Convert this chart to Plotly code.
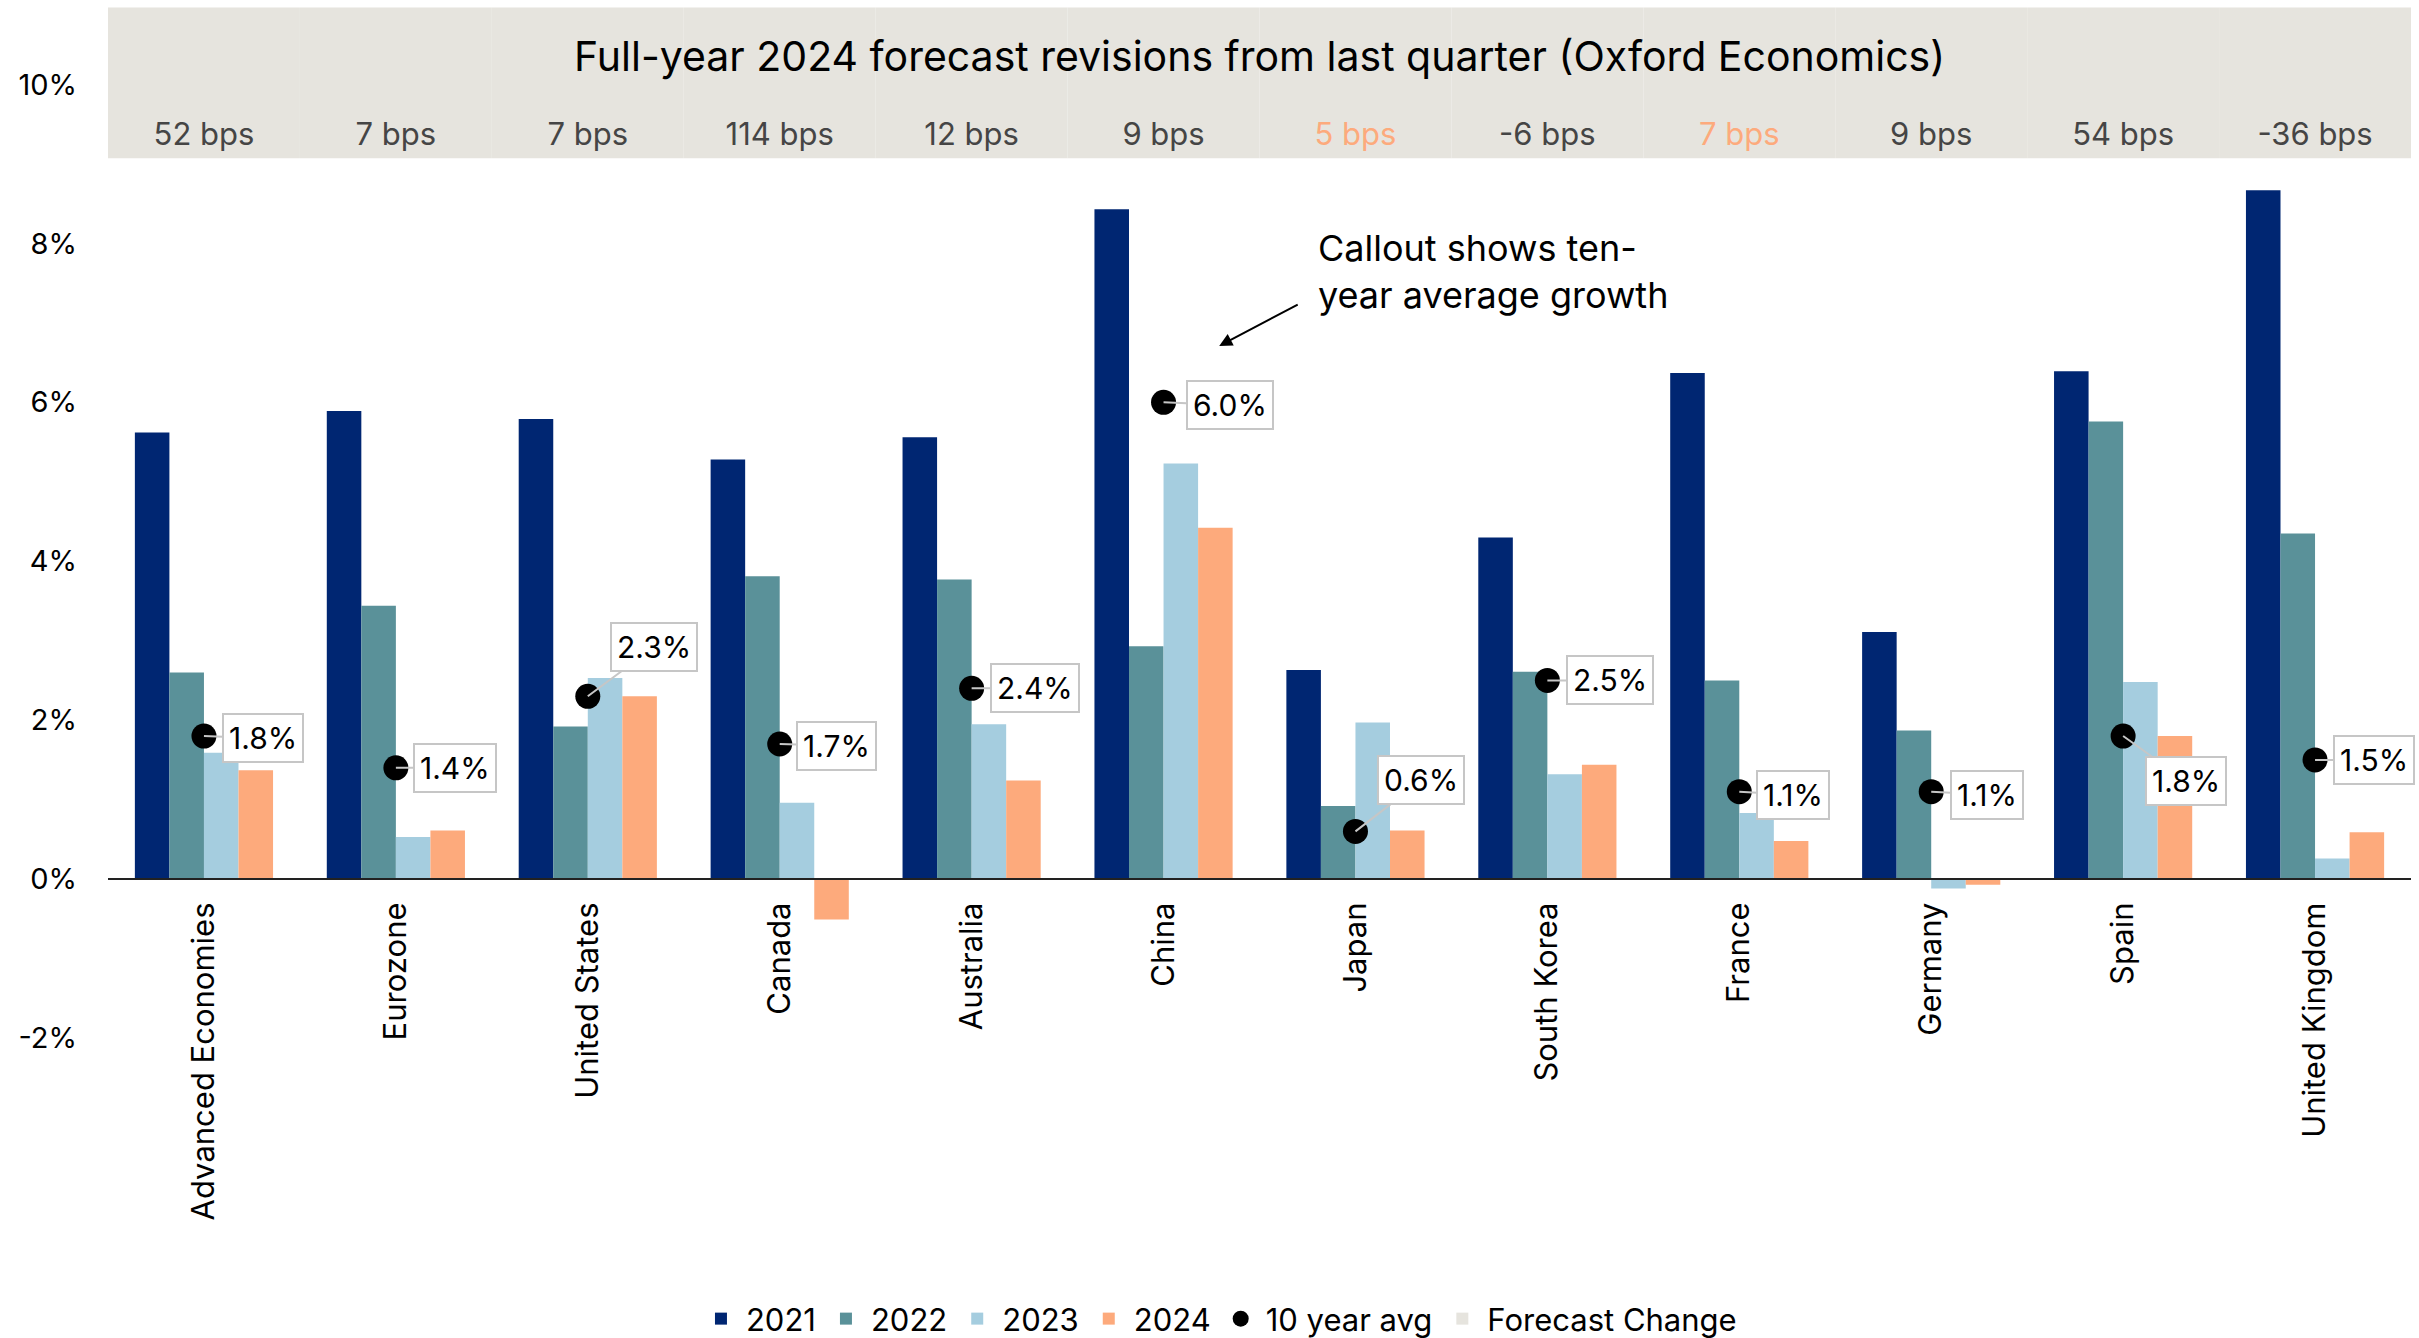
import plotly.graph_objects as go

# ---- data -----------------------------------------------------------------
categories = ["Advanced Economies", "Eurozone", "United States", "Canada",
              "Australia", "China", "Japan", "South Korea", "France",
              "Germany", "Spain", "United Kingdom"]

growth_2021 = [5.62, 5.89, 5.79, 5.28, 5.56, 8.43, 2.63, 4.30, 6.37, 3.11, 6.39, 8.67]
growth_2022 = [2.60, 3.44, 1.92, 3.81, 3.77, 2.93, 0.92, 2.61, 2.50, 1.87, 5.76, 4.35]
growth_2023 = [1.59, 0.53, 2.53, 0.96, 1.95, 5.23, 1.97, 1.32, 0.83, -0.12, 2.48, 0.26]
growth_2024 = [1.37, 0.61, 2.30, -0.51, 1.24, 4.42, 0.61, 1.44, 0.48, -0.07, 1.80, 0.59]

ten_year_avg = [1.8, 1.4, 2.3, 1.7, 2.4, 6.0, 0.6, 2.5, 1.1, 1.1, 1.8, 1.5]

revision_bps = [52, 7, 7, 114, 12, 9, 5, -6, 7, 9, 54, -36]
revision_highlight = [False, False, False, False, False, False, True, False, True, False, False, False]

y_ticks = [-2, 0, 2, 4, 6, 8, 10]
y_tick_labels = ["-2%", "0%", "2%", "4%", "6%", "8%", "10%"]

# callout offsets (px) for the ten-year average labels
callout_dx = [59, 59, 66, 57, 63, 66, 66, 63, 54, 56, 63, 59]
callout_dy = [2, 0, -49, 2, 0, 3, -51, 0, 3, 3, 45, 0]

# ---- styling --------------------------------------------------------------
FONT = "Inter"
C2021, C2022, C2023, C2024 = "#002672", "#5A9199", "#A5CDDF", "#FDAA7C"
BAND = "#E6E4DE"
BAND_BASE, BAND_TOP = 9.07, 10.97
Y_MIN, Y_MAX = -2, 11

fig = go.Figure()

# header band ("Forecast Change" series) on an overlaid category axis
fig.add_trace(go.Bar(
    x=categories, y=[BAND_TOP - BAND_BASE] * len(categories), base=BAND_BASE,
    width=1.0, marker=dict(color=BAND, line=dict(width=0)),
    name="Forecast Change", xaxis="x2", yaxis="y", legendrank=6,
    hoverinfo="skip",
))

for vals, col, nm, rk in [(growth_2021, C2021, "2021", 1), (growth_2022, C2022, "2022", 2),
                          (growth_2023, C2023, "2023", 3), (growth_2024, C2024, "2024", 4)]:
    fig.add_trace(go.Bar(x=categories, y=vals, name=nm, legendrank=rk,
                         marker=dict(color=col, line=dict(width=0))))

fig.add_trace(go.Scatter(
    x=categories, y=ten_year_avg, mode="markers", name="10 year avg", legendrank=5,
    marker=dict(color="black", size=25),
))

# revision labels inside the band
fig.add_trace(go.Scatter(
    x=categories, y=[9.33] * len(categories), mode="text",
    text=[f"{v} bps" for v in revision_bps],
    textfont=dict(family=FONT, size=31,
                  color=["#FDAA7C" if h else "#454545" for h in revision_highlight]),
    showlegend=False, hoverinfo="skip", xaxis="x2",
))

annotations = []
for c, v, dx, dy in zip(categories, ten_year_avg, callout_dx, callout_dy):
    annotations.append(dict(
        x=c, y=v, xref="x", yref="y", text=f"{v:.1f}%",
        showarrow=True, ax=dx, ay=dy, arrowhead=0, arrowwidth=2,
        arrowcolor="#C6C6C6", standoff=0,
        bgcolor="white", bordercolor="#C6C6C6", borderwidth=2, borderpad=5,
        font=dict(family=FONT, size=30, color="black"),
    ))

# chart title inside the band
annotations.append(dict(
    x=0.5, xref="paper", y=10.36, yref="y",
    text="Full-year 2024 forecast revisions from last quarter (Oxford Economics)",
    showarrow=False, font=dict(family=FONT, size=41, color="black"),
))

# explanatory note with arrow
annotations.append(dict(
    x=0.5245, xref="paper", y=7.64, yref="y", xanchor="left", yanchor="middle",
    align="left", text="Callout shows ten-<br>year average growth",
    showarrow=False, font=dict(family=FONT, size=36, color="black"),
))
annotations.append(dict(
    x=5.29, xref="x", y=6.71, yref="y", text="", showarrow=True,
    ax=80, ay=-42, arrowhead=2, arrowsize=1.3, arrowwidth=2, arrowcolor="black",
))

zero_pos = (0 - Y_MIN) / (Y_MAX - Y_MIN)

fig.update_layout(
    width=2419, height=1338,
    margin=dict(l=108, r=8, t=5, b=300, autoexpand=False),
    paper_bgcolor="white", plot_bgcolor="white",
    barmode="group", bargap=0.28, bargroupgap=0,
    font=dict(family=FONT, color="black"),
    xaxis=dict(
        type="category", categoryarray=categories, range=[-0.5, 11.5],
        anchor="free", position=zero_pos, automargin=False,
        showline=True, linecolor="#222222", linewidth=2,
        ticks="", tickangle=-90, tickfont=dict(family=FONT, size=31, color="black"),
        ticklabelstandoff=10, showgrid=False, zeroline=False,
    ),
    xaxis2=dict(
        type="category", categoryarray=categories, range=[-0.5, 11.5],
        overlaying="x", anchor="y", visible=False,
    ),
    yaxis=dict(
        range=[Y_MIN, Y_MAX], tickmode="array", tickvals=y_ticks, ticktext=y_tick_labels,
        showgrid=False, zeroline=False, showline=False, ticks="", automargin=False,
        tickfont=dict(family=FONT, size=29, color="black"),
        ticklabelstandoff=30,
    ),
    legend=dict(
        orientation="h", x=0.4824, xanchor="center", y=-0.272, yanchor="middle",
        font=dict(family=FONT, size=31, color="black"),
        itemwidth=40, traceorder="normal",
    ),
    annotations=annotations,
    showlegend=True,
)

fig.write_html("out.html")
